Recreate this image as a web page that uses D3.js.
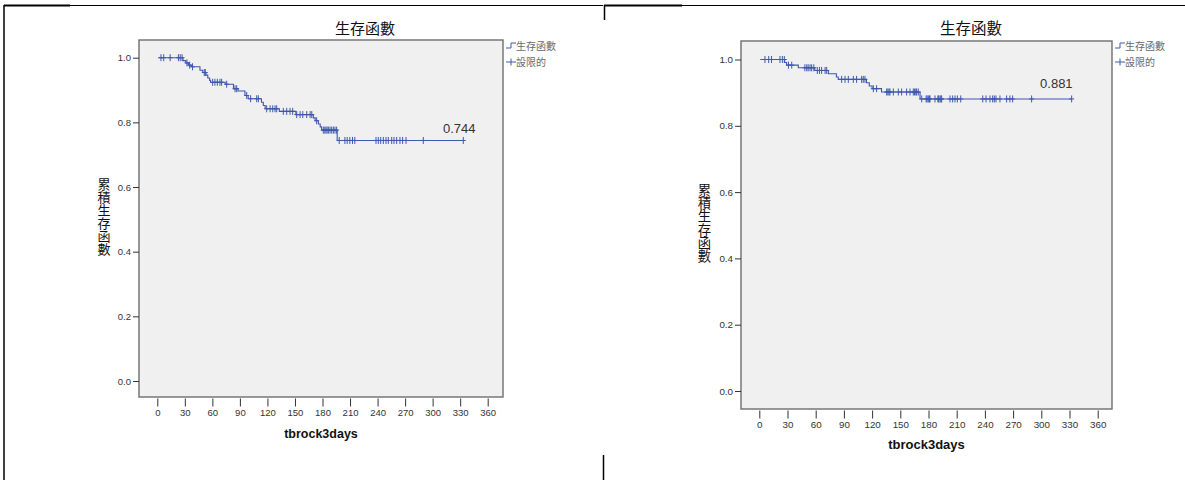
<!DOCTYPE html>
<html>
<head>
<meta charset="utf-8">
<script src="https://cdn.jsdelivr.net/npm/d3@7"></script>
<style>
  body { margin: 0; background: #fff; }
  text { font-family: "Liberation Sans", Arial, sans-serif; }
  .cjk { font-family: "Noto Sans CJK TC", "Noto Sans CJK SC", sans-serif; }
</style>
</head>
<body>
<svg id="chart" width="1185" height="480"></svg>
<script>
// ---- data ----
const xTicks = [0, 30, 60, 90, 120, 150, 180, 210, 240, 270, 300, 330, 360];
const yTicks = [0.0, 0.2, 0.4, 0.6, 0.8, 1.0];
const titleText = "生存函數";
const yTitleText = "累積生存函數";
const xTitleText = "tbrock3days";
const legendLabels = ["生存函數", "設限的"];

// Kaplan-Meier step points (day, cumulative survival) – first group
const leftTimes = [1, 28, 31, 34, 37, 46.5, 49.5, 53, 55, 57, 58, 74, 83, 88, 95.5, 99, 113.5, 115.5, 117.5, 133, 151, 170, 172, 175.5, 177.5, 179, 196];
const leftSurv  = [1.0, 0.991, 0.984, 0.977, 0.972, 0.961, 0.954, 0.946, 0.937, 0.930, 0.924, 0.918, 0.904, 0.897, 0.883, 0.873, 0.862, 0.852, 0.842, 0.834, 0.824, 0.814, 0.805, 0.795, 0.786, 0.776, 0.744];
const leftCensored = [4, 7, 14, 23, 25, 27, 32.3, 35.2, 38.4, 51.2, 52.3, 60.3, 62.8, 65.4, 68.3, 70.1, 75.6,
  84.7, 86.5, 97.4, 101.7, 108.3, 110.1, 119.2, 122.9, 125.8, 128.3, 130.1, 137.3, 141, 144.6, 147.5,
  151.9, 155.6, 158.5, 162.8, 166.5, 168.3, 173.6, 180.9, 182.5, 183.8, 185, 186.4, 188.2, 190, 191.8,
  193.6, 195.4, 198.2, 204.4, 206.9, 209.8, 212.7, 215.2, 238.3, 240.8, 243.4, 246.3, 249.2, 251.7,
  255.4, 257.9, 260.8, 264.4, 267.3, 271, 289.8, 333.4];

// Kaplan-Meier step points – second group
const rightTimes = [1, 27, 29, 41.5, 59, 73.5, 82, 84, 114, 117, 120, 130, 171];
const rightSurv  = [1.0, 0.991, 0.983, 0.975, 0.967, 0.957, 0.947, 0.940, 0.930, 0.920, 0.912, 0.902, 0.881];
const rightCensored = [6, 10, 13, 22, 24.5, 26.6, 31, 34.5, 48.5, 50.5, 52, 54, 55.7, 58, 61.7, 64, 66.3,
  70, 71.7, 87.6, 91.2, 94.7, 100, 103.5, 108.9, 110.6, 112.4, 121.3, 124.8, 135.5, 136.8, 138, 139,
  142.6, 147.9, 151.4, 156.7, 160.3, 163.8, 165, 166.5, 167.4, 169.1, 172.8, 177.5, 178.5, 179.8, 181,
  181.6, 186.9, 190, 190.8, 192.2, 193.2, 194, 202.9, 205.7, 208.2, 210.7, 214.3, 237.7, 241.2, 245.4,
  248.3, 250, 251.8, 256, 263.1, 266.6, 269.5, 289.7, 332.3];

// ---- drawing ----
const svg = d3.select("#chart");
const curveColor = "#3e58ac";

// page frame lines
const frame = svg.append("g").attr("stroke", "#000").attr("fill", "none");
frame.append("line").attr("x1", 4).attr("y1", 5).attr("x2", 4).attr("y2", 480).attr("stroke-width", 1.5);
frame.append("line").attr("x1", 4).attr("y1", 5.5).attr("x2", 603).attr("y2", 5.5).attr("stroke-width", 1.2);
frame.append("line").attr("x1", 4).attr("y1", 5.5).attr("x2", 70).attr("y2", 5.5).attr("stroke-width", 2.2);
frame.append("line").attr("x1", 603.5).attr("y1", 455).attr("x2", 603.5).attr("y2", 480).attr("stroke-width", 1.5);
frame.append("line").attr("x1", 604.5).attr("y1", 5).attr("x2", 604.5).attr("y2", 20).attr("stroke-width", 1.5);
frame.append("line").attr("x1", 604).attr("y1", 5.5).attr("x2", 1185).attr("y2", 5.5).attr("stroke-width", 1.2);
frame.append("line").attr("x1", 604).attr("y1", 5.5).attr("x2", 682).attr("y2", 5.5).attr("stroke-width", 2.2);

function survAt(times, surv, t) {
  let s = surv[0];
  for (let i = 0; i < times.length; i++) if (times[i] <= t) s = surv[i];
  return s;
}

function drawPanel(L, times, surv, censored) {
  const g = svg.append("g");
  const x = d3.scaleLinear().domain([0, 360]).range(L.xr);
  const y = d3.scaleLinear().domain([0, 1]).range(L.yr);

  // plot background
  g.append("rect")
    .attr("x", L.px0).attr("y", L.py0)
    .attr("width", L.px1 - L.px0).attr("height", L.py1 - L.py0)
    .attr("fill", "#f0f0f0").attr("stroke", "#6e6e6e").attr("stroke-width", 1.4);

  // y axis
  const yAxis = g.append("g").attr("transform", `translate(${L.px0},0)`)
    .call(d3.axisLeft(y).tickValues(yTicks).tickFormat(d3.format(".1f")).tickSize(6).tickPadding(2));
  yAxis.select(".domain").remove();
  yAxis.selectAll("line").attr("stroke", "#333");
  yAxis.selectAll("text").attr("fill", "#333").style("font-size", L.tickFont + "px")
    .style("font-family", "Liberation Sans, Arial, sans-serif");

  // x axis
  const xAxis = g.append("g").attr("transform", `translate(0,${L.py1 + 1.5})`)
    .call(d3.axisBottom(x).tickValues(xTicks).tickFormat(d3.format("d")).tickSize(8).tickPadding(3));
  xAxis.select(".domain").remove();
  xAxis.selectAll("line").attr("stroke", "#333");
  xAxis.selectAll("text").attr("fill", "#333").style("font-size", L.tickFont + "px")
    .style("font-family", "Liberation Sans, Arial, sans-serif");

  // survival curve
  const pts = times.map((t, i) => [t, surv[i]]);
  pts.push([L.end, surv[surv.length - 1]]);
  g.append("path").datum(pts)
    .attr("fill", "none").attr("stroke", curveColor).attr("stroke-width", 1.1)
    .attr("d", d3.line().x(d => x(d[0])).y(d => y(d[1])).curve(d3.curveStepAfter));

  // censor marks
  const cg = g.append("g").attr("stroke", curveColor).attr("stroke-width", 1);
  censored.forEach(t => {
    const cx = x(t), cy = y(survAt(times, surv, t));
    cg.append("line").attr("x1", cx).attr("x2", cx).attr("y1", cy - 3.5).attr("y2", cy + 3.5);
    cg.append("line").attr("x1", cx - 2.5).attr("x2", cx + 2.5).attr("y1", cy).attr("y2", cy);
  });

  // final survival label
  const last = surv[surv.length - 1];
  g.append("text").attr("x", x(L.labelDay)).attr("y", y(last) + L.labelDy)
    .attr("text-anchor", "middle").attr("fill", "#333").style("font-size", "13px")
    .text(d3.format(".3f")(last));

  // title
  g.append("text").attr("class", "cjk").attr("x", L.titleX).attr("y", L.titleY)
    .attr("text-anchor", "middle").attr("fill", "#111").style("font-size", L.titleFont + "px")
    .text(titleText);

  // x title
  g.append("text").attr("x", (L.px0 + L.px1) / 2).attr("y", L.xTitleY)
    .attr("text-anchor", "middle").attr("fill", "#111").style("font-weight", "bold")
    .style("font-size", L.xTitleFont + "px").text(xTitleText);

  // y title, set in a vertical writing mode
  g.append("text").attr("class", "cjk")
    .attr("x", L.yTitleX).attr("y", L.yTitleY)
    .attr("writing-mode", "vertical-rl")
    .attr("text-anchor", "middle").attr("fill", "#111")
    .style("font-size", L.yTitleFont + "px")
    .text(yTitleText);

  // legend
  const lg = g.append("g");
  const lx = L.legendX, r1 = L.legendY1, r2 = L.legendY2;
  lg.append("path").attr("fill", "none").attr("stroke", curveColor).attr("stroke-width", 1)
    .attr("d", `M${lx},${r1 + 2}H${lx + 5}V${r1 - 3}H${lx + 10}`);
  lg.append("line").attr("stroke", curveColor).attr("x1", lx).attr("x2", lx + 10).attr("y1", r2).attr("y2", r2);
  lg.append("line").attr("stroke", curveColor).attr("x1", lx + 5).attr("x2", lx + 5).attr("y1", r2 - 3.5).attr("y2", r2 + 3.5);
  legendLabels.forEach((lab, i) => {
    lg.append("text").attr("class", "cjk").attr("x", lx + 10).attr("y", (i === 0 ? r1 : r2) + 4)
      .attr("fill", "#6a6a6a").style("font-size", L.legendFont + "px").text(lab);
  });
}

drawPanel({
  px0: 139, px1: 503, py0: 40, py1: 397,
  xr: [157.3, 487.7], yr: [381, 57.7],
  end: 333.4, labelDay: 329, labelDy: -7,
  tickFont: 9.5, titleX: 365, titleY: 34, titleFont: 15,
  xTitleY: 438, xTitleFont: 12.5,
  yTitleX: 104, yTitleY: 217, yTitleFont: 13,
  legendX: 506, legendY1: 46, legendY2: 62, legendFont: 10
}, leftTimes, leftSurv, leftCensored);

drawPanel({
  px0: 741, px1: 1112, py0: 41, py1: 409,
  xr: [759.3, 1097.7], yr: [391, 59.5],
  end: 332.3, labelDay: 316, labelDy: -11,
  tickFont: 9.8, titleX: 971, titleY: 34, titleFont: 15.5,
  xTitleY: 449, xTitleFont: 13,
  yTitleX: 704.5, yTitleY: 223, yTitleFont: 13.3,
  legendX: 1115, legendY1: 46, legendY2: 62, legendFont: 10
}, rightTimes, rightSurv, rightCensored);
</script>
</body>
</html>
